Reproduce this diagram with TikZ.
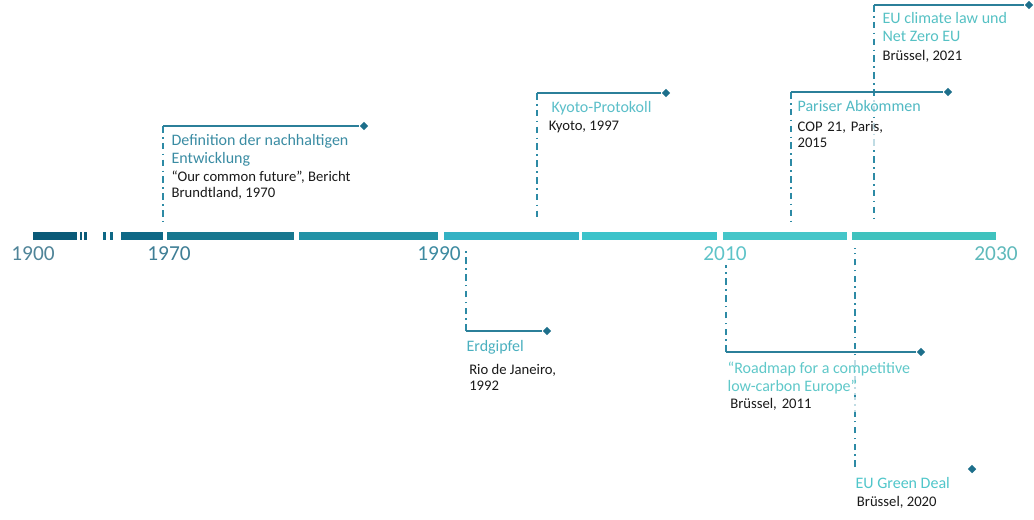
\documentclass[tikz,border=0pt]{standalone}
\usepackage{fontspec}
\setmainfont{Carlito}
\usetikzlibrary{positioning, shapes.geometric}
\definecolor{barA}{HTML}{0A5A78}
\definecolor{barB}{HTML}{0E6886}
\definecolor{barC}{HTML}{17778F}
\definecolor{barD}{HTML}{2292A6}
\definecolor{barE}{HTML}{34B2C4}
\definecolor{barF}{HTML}{3CC3CA}
\definecolor{barG}{HTML}{45C6C9}
\definecolor{barH}{HTML}{3FC2BE}
\definecolor{yrA}{HTML}{4F8498}
\definecolor{yrB}{HTML}{3F7E95}
\definecolor{yrC}{HTML}{3D8AA0}
\definecolor{yrD}{HTML}{5EC3C8}
\definecolor{yrE}{HTML}{5FB9BB}
\definecolor{stemc}{HTML}{2D8AA5}
\definecolor{armc}{HTML}{2B7F99}
\definecolor{tipc}{HTML}{1D6F8B}
\definecolor{placec}{HTML}{1A1A1A}
\definecolor{ttlA}{HTML}{3A8CA3}
\definecolor{ttlB}{HTML}{5BBFC9}
\definecolor{ttlC}{HTML}{50B9C3}
\definecolor{ttlD}{HTML}{55C1C4}
\definecolor{ttlE}{HTML}{4AB0BF}
\definecolor{ttlF}{HTML}{5FC8C9}
\definecolor{ttlG}{HTML}{4FC6CA}

\begin{document}
\begin{tikzpicture}[
  x=0.75pt, y=-0.75pt,
  stem/.style={draw=stemc,line width=1.4pt,dash pattern=on 5pt off 3.2pt on 1.2pt off 3.2pt},
  arm/.style={draw=armc,line width=1.1pt},
  tip/.style={diamond,fill=tipc,inner sep=0pt,minimum size=6.5pt},
  yearlab/.style={font=\fontsize{16}{18}\selectfont,anchor=north,inner sep=0pt},
  card/.style={fill=white,fill opacity=0.7,text opacity=1,inner sep=1pt,align=left,anchor=north west},
  title/.style={card,font=\fontsize{12}{13.5}\selectfont},
  place/.style={card,font=\fontsize{11}{12}\selectfont,text=placec},
]
\useasboundingbox (0,0) rectangle (1034,519);

% time bar
\foreach \a/\b/\c in {33/77/barA, 80/82/barA, 84/87/barA, 103/106/barB, 110/113/barB,
  121/163/barB, 167/294/barC, 299/438/barD, 444/579/barE, 582/717/barF, 723/847/barG, 852/996/barH} {
  \fill[\c] (\a,232) rectangle (\b,240);
}
\foreach \x/\yr/\c in {33/1900/yrA, 169/1970/yrB, 439/1990/yrC, 725/2010/yrD, 996/2030/yrE} {
  \node[yearlab,text=\c] (y\yr) at (\x,246) {\yr};
}

% stems
\coordinate (def-bar) at (163,221);   \coordinate (def-top) at (163,126);
\coordinate (kyo-bar) at (537,221);   \coordinate (kyo-top) at (537,93);
\coordinate (par-bar) at (791,221);   \coordinate (par-top) at (791,92);
\coordinate (eul-bar) at (874,221);   \coordinate (eul-top) at (874,5);
\coordinate (erd-bar) at (466,248);   \coordinate (erd-bot) at (466,331);
\coordinate (road-bar) at (726,265);  \coordinate (road-bot) at (726,352);
\coordinate (deal-bar) at (855,248);  \coordinate (deal-bot) at (855,467);

\foreach \e/\t in {def/top, kyo/top, par/top, eul/top, erd/bot, road/bot, deal/bot} {
  \draw[stem] (\e-\t) -- (\e-bar);
}

% texts
\node[title,text=ttlA] (def-title) at (170,133) {Definition der nachhaltigen\\Entwicklung};
\node[place,below=1pt of def-title.south west,anchor=north west] (def-place) {“Our common future”, Bericht\\Brundtland, 1970};

\node[title,text=ttlB] (kyo-title) at (550,100) {Kyoto-Protokoll};
\node[place,below=1.5pt of kyo-title.south west,anchor=north west,xshift=-2pt] (kyo-place) {Kyoto, 1997};

\node[title,text=ttlC] (par-title) at (796,99) {Pariser Abkommen};
\node[place,text width=70pt,below=5pt of par-title.south west,anchor=north west] (par-place) {COP 21, Paris,\\2015};

\node[title,text=ttlD] (eul-title) at (881,11) {EU climate law und\\Net Zero EU};
\node[place,below=4pt of eul-title.south west,anchor=north west] (eul-place) {Brüssel, 2021};

\node[title,text=ttlE] (erd-title) at (465,339) {Erdgipfel};
\node[place,below=5pt of erd-title.south west,anchor=north west,xshift=2pt] (erd-place) {Rio de Janeiro,\\1992};

\node[title,text=ttlF] (road-title) at (726,360) {“Roadmap for a competitive\\low-carbon Europe”};
\node[place,text width=96pt,below=1pt of road-title.south west,anchor=north west,xshift=2pt] (road-place) {Brüssel, 2011};

\node[title,text=ttlG] (deal-title) at (854,476) {EU Green Deal};
\node[place,below=3pt of deal-title.south west,anchor=north west,xshift=1pt] (deal-place) {Brüssel, 2020};

% arms and end marks
\node[tip] (def-tip) at (364,126) {};
\node[tip] (kyo-tip) at (666,93) {};
\node[tip] (par-tip) at (948,92) {};
\node[tip] (eul-tip) at (1029,5) {};
\node[tip] (erd-tip) at (547,331) {};
\node[tip] (road-tip) at (921,352) {};
\node[tip] (deal-tip) at (972,469) {};

\foreach \e/\t in {def/top, kyo/top, par/top, eul/top, erd/bot, road/bot} {
  \draw[arm] (\e-\t) -- (\e-tip);
}
\end{tikzpicture}
\end{document}
